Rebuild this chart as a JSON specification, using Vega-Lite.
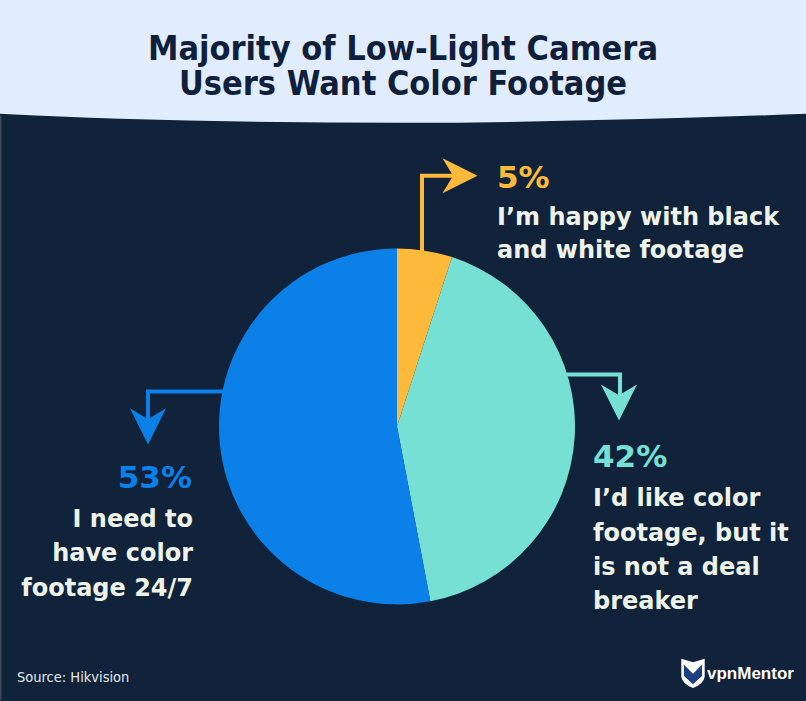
{
  "$schema": "https://vega.github.io/schema/vega-lite/v6.json",
  "autosize": {"type": "fit", "contains": "padding"},
  "width": 806,
  "height": 701,
  "padding": 0,
  "background": "#11233a",
  "config": {"view": {"stroke": null}},
  "datasets": {
    "header": [
      {"hx": 0, "hy": 114},
      {"hx": 120, "hy": 119},
      {"hx": 403, "hy": 123},
      {"hx": 686, "hy": 118},
      {"hx": 806, "hy": 114}
    ],
    "slices": [
      {"key": "bw", "answer": "I’m happy with black and white footage", "pct": 5, "order": 1},
      {"key": "nice", "answer": "I’d like color footage, but it is not a deal breaker", "pct": 42, "order": 2},
      {"key": "need", "answer": "I need to have color footage 24/7", "pct": 53, "order": 3}
    ],
    "connectors": [
      {"key": "bw", "step": 1, "cx": 422, "cy": 262},
      {"key": "bw", "step": 2, "cx": 422, "cy": 176},
      {"key": "bw", "step": 3, "cx": 458, "cy": 176},
      {"key": "nice", "step": 1, "cx": 560, "cy": 375},
      {"key": "nice", "step": 2, "cx": 620, "cy": 375},
      {"key": "nice", "step": 3, "cx": 620, "cy": 398},
      {"key": "need", "step": 1, "cx": 230, "cy": 392},
      {"key": "need", "step": 2, "cx": 148, "cy": 392},
      {"key": "need", "step": 3, "cx": 148, "cy": 422}
    ],
    "heads": [
      {"key": "bw", "dir": "right", "ax": 460, "ay": 176},
      {"key": "nice", "dir": "down", "ax": 619, "ay": 403},
      {"key": "need", "dir": "down", "ax": 148, "ay": 427}
    ],
    "pcts": [
      {"key": "bw", "label": "5%", "tx": 497, "ty": 188, "side": "left"},
      {"key": "nice", "label": "42%", "tx": 593, "ty": 468, "side": "left"},
      {"key": "need", "label": "53%", "tx": 192, "ty": 489, "side": "right"}
    ],
    "desc": [
      {"label": "I’m happy with black", "tx": 497, "ty": 225, "side": "left"},
      {"label": "and white footage", "tx": 497, "ty": 258, "side": "left"},
      {"label": "I’d like color", "tx": 593, "ty": 507, "side": "left"},
      {"label": "footage, but it", "tx": 593, "ty": 542, "side": "left"},
      {"label": "is not a deal", "tx": 593, "ty": 576, "side": "left"},
      {"label": "breaker", "tx": 593, "ty": 610, "side": "left"},
      {"label": "I need to", "tx": 193, "ty": 528, "side": "right"},
      {"label": "have color", "tx": 193, "ty": 562, "side": "right"},
      {"label": "footage 24/7", "tx": 193, "ty": 597, "side": "right"}
    ],
    "title": [
      {"label": "Majority of Low-Light Camera", "tx": 403, "ty": 60},
      {"label": "Users Want Color Footage", "tx": 403, "ty": 95}
    ]
  },
  "encoding": {},
  "layer": [
    {
      "data": {"name": "header"},
      "mark": {"type": "area", "color": "#e1edfc", "interpolate": "monotone"},
      "encoding": {
        "x": {"field": "hx", "type": "quantitative", "scale": {"domain": [0, 806], "nice": false, "zero": false}, "axis": null},
        "y": {"field": "hy", "type": "quantitative", "scale": {"domain": [0, 701], "nice": false, "zero": false, "reverse": true}, "axis": null, "stack": null},
        "y2": {"datum": 0}
      }
    },
    {
      "data": {"values": [{"edge": "left"}]},
      "mark": {"type": "rule", "color": "#3b4858", "strokeWidth": 1.5},
      "encoding": {
        "x": {"datum": 0.75, "type": "quantitative"},
        "y": {"datum": 116, "type": "quantitative"},
        "y2": {"datum": 701}
      }
    },
    {
      "data": {"name": "connectors"},
      "mark": {"type": "line", "strokeWidth": 4, "strokeJoin": "miter", "strokeCap": "butt"},
      "encoding": {
        "x": {"field": "cx", "type": "quantitative"},
        "y": {"field": "cy", "type": "quantitative"},
        "order": {"field": "step"},
        "detail": {"field": "key"},
        "color": {"field": "key", "type": "nominal", "scale": {"domain": ["bw", "nice", "need"], "range": ["#fdb93a", "#77e0d4", "#0b80e8"]}, "legend": null}
      }
    },
    {
      "data": {"name": "heads"},
      "transform": [{"filter": "datum.dir === 'right'"}],
      "mark": {"type": "point", "filled": true, "opacity": 1, "size": 1225, "shape": "M1,0L-1,-1L-0.4,0L-1,1Z"},
      "encoding": {
        "x": {"field": "ax", "type": "quantitative"},
        "y": {"field": "ay", "type": "quantitative"},
        "color": {"field": "key", "type": "nominal", "legend": null}
      }
    },
    {
      "data": {"name": "heads"},
      "transform": [{"filter": "datum.dir === 'down'"}],
      "mark": {"type": "point", "filled": true, "opacity": 1, "size": 1300, "shape": "M0,1L-1,-1L0,-0.4L1,-1Z"},
      "encoding": {
        "x": {"field": "ax", "type": "quantitative"},
        "y": {"field": "ay", "type": "quantitative"},
        "color": {"field": "key", "type": "nominal", "legend": null}
      }
    },
    {
      "data": {"name": "slices"},
      "mark": {"type": "arc", "outerRadius": 178},
      "encoding": {
        "theta": {"field": "pct", "type": "quantitative", "stack": true},
        "order": {"field": "order"},
        "color": {"field": "key", "type": "nominal", "legend": null},
        "x": {"datum": 397, "type": "quantitative"},
        "y": {"datum": 427, "type": "quantitative"}
      }
    },
    {
      "data": {"name": "title"},
      "mark": {"type": "text", "align": "center", "baseline": "alphabetic", "font": "DejaVu Sans Condensed, sans-serif", "fontWeight": "bold", "fontSize": 34, "color": "#0f1f3c"},
      "encoding": {
        "x": {"field": "tx", "type": "quantitative"},
        "y": {"field": "ty", "type": "quantitative"},
        "text": {"field": "label"}
      }
    },
    {
      "data": {"name": "pcts"},
      "transform": [{"filter": "datum.side === 'left'"}],
      "mark": {"type": "text", "align": "left", "baseline": "alphabetic", "font": "DejaVu Sans, sans-serif", "fontWeight": "bold", "fontSize": 31},
      "encoding": {
        "x": {"field": "tx", "type": "quantitative"},
        "y": {"field": "ty", "type": "quantitative"},
        "text": {"field": "label"},
        "color": {"field": "key", "type": "nominal", "legend": null}
      }
    },
    {
      "data": {"name": "pcts"},
      "transform": [{"filter": "datum.side === 'right'"}],
      "mark": {"type": "text", "align": "right", "baseline": "alphabetic", "font": "DejaVu Sans, sans-serif", "fontWeight": "bold", "fontSize": 31},
      "encoding": {
        "x": {"field": "tx", "type": "quantitative"},
        "y": {"field": "ty", "type": "quantitative"},
        "text": {"field": "label"},
        "color": {"field": "key", "type": "nominal", "legend": null}
      }
    },
    {
      "data": {"name": "desc"},
      "transform": [{"filter": "datum.side === 'left'"}],
      "mark": {"type": "text", "align": "left", "baseline": "alphabetic", "font": "DejaVu Sans, sans-serif", "fontWeight": "bold", "fontSize": 24, "color": "#eef3ea"},
      "encoding": {
        "x": {"field": "tx", "type": "quantitative"},
        "y": {"field": "ty", "type": "quantitative"},
        "text": {"field": "label"}
      }
    },
    {
      "data": {"name": "desc"},
      "transform": [{"filter": "datum.side === 'right'"}],
      "mark": {"type": "text", "align": "right", "baseline": "alphabetic", "font": "DejaVu Sans, sans-serif", "fontWeight": "bold", "fontSize": 24, "color": "#eef3ea"},
      "encoding": {
        "x": {"field": "tx", "type": "quantitative"},
        "y": {"field": "ty", "type": "quantitative"},
        "text": {"field": "label"}
      }
    },
    {
      "data": {"values": [{"label": "Source: Hikvision"}]},
      "mark": {"type": "text", "align": "left", "baseline": "alphabetic", "font": "DejaVu Sans Condensed, sans-serif", "fontSize": 14.5, "color": "#e3e8ee"},
      "encoding": {
        "x": {"datum": 17, "type": "quantitative"},
        "y": {"datum": 683, "type": "quantitative"},
        "text": {"field": "label"}
      }
    },
    {
      "data": {"values": [{"part": "shield"}]},
      "mark": {"type": "point", "filled": true, "opacity": 1, "size": 900, "color": "#ffffff", "shape": "M-0.78,-0.95L0,-0.72L0.78,-0.95L0.78,0.25Q0.7,0.75 0,1Q-0.7,0.75 -0.78,0.25Z"},
      "encoding": {
        "x": {"datum": 693, "type": "quantitative"},
        "y": {"datum": 674, "type": "quantitative"}
      }
    },
    {
      "data": {"values": [{"part": "emblem"}]},
      "mark": {"type": "point", "filled": true, "opacity": 1, "size": 900, "color": "#1c3f80", "shape": "M-0.6,-0.55L0,0.05L0.6,-0.55L0.6,0.2L0,0.75L-0.6,0.2Z"},
      "encoding": {
        "x": {"datum": 693, "type": "quantitative"},
        "y": {"datum": 674, "type": "quantitative"}
      }
    },
    {
      "data": {"values": [{"label": "vpnMentor"}]},
      "mark": {"type": "text", "align": "left", "baseline": "alphabetic", "font": "Liberation Sans, Arial, sans-serif", "fontWeight": "bold", "fontSize": 17, "color": "#ffffff"},
      "encoding": {
        "x": {"datum": 707, "type": "quantitative"},
        "y": {"datum": 680, "type": "quantitative"},
        "text": {"field": "label"}
      }
    }
  ]
}
